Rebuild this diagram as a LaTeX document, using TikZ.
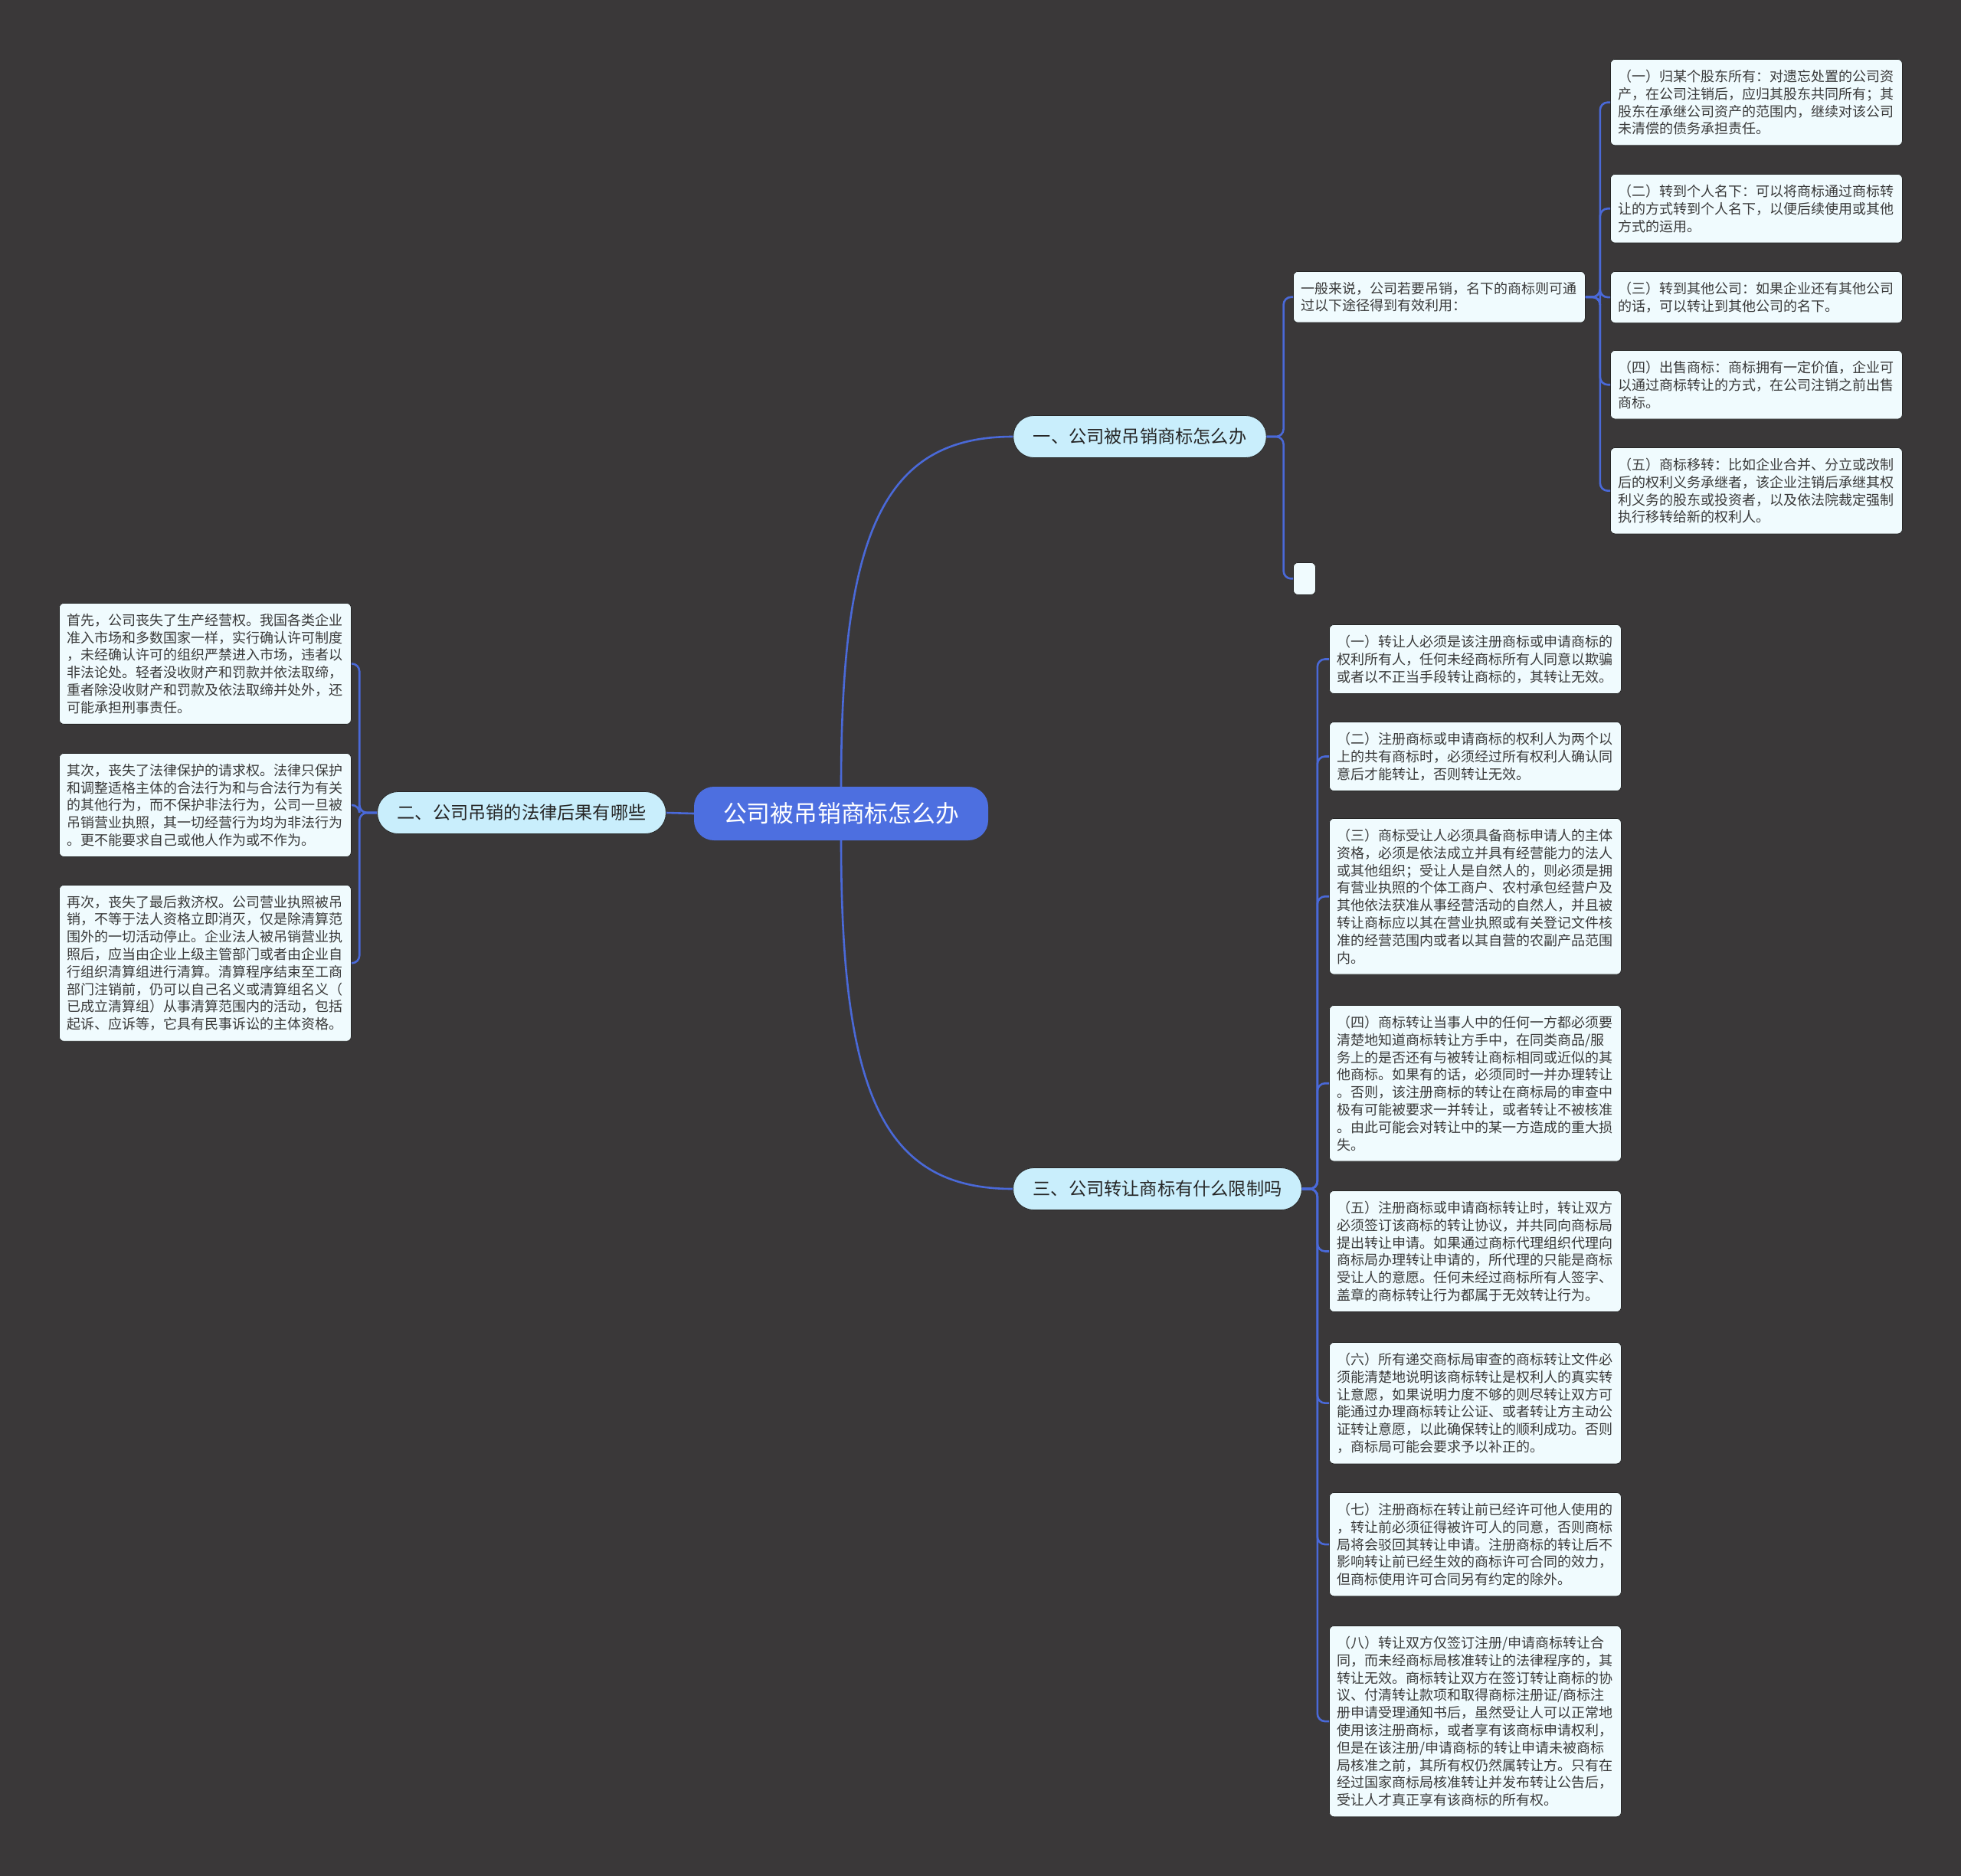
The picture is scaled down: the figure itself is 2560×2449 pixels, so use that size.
\documentclass[tikz,border=0pt]{standalone}
\usepackage{fontspec}
\setmainfont{Noto Sans CJK SC}
\definecolor{bgc}{HTML}{3A3839}
\definecolor{linkblue}{HTML}{4A69D8}
\definecolor{rootblue}{HTML}{4D6FE0}
\definecolor{branchcyan}{HTML}{C9EEFC}
\definecolor{leaffill}{HTML}{F0FBFE}
\definecolor{leaftext}{HTML}{3A3A3A}
\definecolor{branchtext}{HTML}{262626}

\begin{document}
\begin{tikzpicture}[x=1pt, y=-1pt,
    root/.style={fill=rootblue, text=white, rounded corners=26pt, minimum height=70pt, inner xsep=38pt, font=\fontsize{30.8}{36}\selectfont},
    branch/.style={fill=branchcyan, text=branchtext, draw=black!85, line width=0.8pt, rounded corners=27pt, minimum height=55pt, inner xsep=26pt, font=\fontsize{23.2}{28}\selectfont},
    leaf/.style={fill=leaffill, text=leaftext, draw=black!85, line width=0.8pt, rounded corners=6pt, anchor=north west, text width=361pt, inner xsep=10pt, inner ysep=13.6pt, align=left, font=\fontsize{18}{22.8}\selectfont},
    stub/.style={fill=leaffill, draw=black!85, line width=0.8pt, rounded corners=6pt, anchor=north west, minimum width=29pt, minimum height=42pt, inner sep=0pt},
    link/.style={draw=linkblue, line width=2.6pt, rounded corners=10pt}
]
\fill[bgc] (0,0) rectangle (2560,2449);
\useasboundingbox (0,0) rectangle (2560,2449);

\node[root] (root) at (1098,1062) {公司被吊销商标怎么办};
\node[branch] (b1) at (1488,570) {一、公司被吊销商标怎么办};
\node[branch] (b2) at (681,1061) {二、公司吊销的法律后果有哪些};
\node[branch] (b3) at (1511,1552) {三、公司转让商标有什么限制吗};

\node[leaf] (s1) at (1688,354) {一般来说，公司若要吊销，名下的商标则可通\\
过以下途径得到有效利用：};
\node[stub] (s2) at (1688,734) {};

\node[leaf] (a1) at (2102,77) {（一）归某个股东所有：对遗忘处置的公司资\\
产，在公司注销后，应归其股东共同所有；其\\
股东在承继公司资产的范围内，继续对该公司\\
未清偿的债务承担责任。};
\node[leaf] (a2) at (2102,227) {（二）转到个人名下：可以将商标通过商标转\\
让的方式转到个人名下，以便后续使用或其他\\
方式的运用。};
\node[leaf] (a3) at (2102,354) {（三）转到其他公司：如果企业还有其他公司\\
的话，可以转让到其他公司的名下。};
\node[leaf] (a4) at (2102,457) {（四）出售商标：商标拥有一定价值，企业可\\
以通过商标转让的方式，在公司注销之前出售\\
商标。};
\node[leaf] (a5) at (2102,584) {（五）商标移转：比如企业合并、分立或改制\\
后的权利义务承继者，该企业注销后承继其权\\
利义务的股东或投资者，以及依法院裁定强制\\
执行移转给新的权利人。};

\node[leaf] (l1) at (77,787) {首先，公司丧失了生产经营权。我国各类企业\\
准入市场和多数国家一样，实行确认许可制度\\
，未经确认许可的组织严禁进入市场，违者以\\
非法论处。轻者没收财产和罚款并依法取缔，\\
重者除没收财产和罚款及依法取缔并处外，还\\
可能承担刑事责任。};
\node[leaf] (l2) at (77,983) {其次，丧失了法律保护的请求权。法律只保护\\
和调整适格主体的合法行为和与合法行为有关\\
的其他行为，而不保护非法行为，公司一旦被\\
吊销营业执照，其一切经营行为均为非法行为\\
。更不能要求自己或他人作为或不作为。};
\node[leaf] (l3) at (77,1155) {再次，丧失了最后救济权。公司营业执照被吊\\
销，不等于法人资格立即消灭，仅是除清算范\\
围外的一切活动停止。企业法人被吊销营业执\\
照后，应当由企业上级主管部门或者由企业自\\
行组织清算组进行清算。清算程序结束至工商\\
部门注销前，仍可以自己名义或清算组名义（\\
已成立清算组）从事清算范围内的活动，包括\\
起诉、应诉等，它具有民事诉讼的主体资格。};

\node[leaf] (c1) at (1735,815) {（一）转让人必须是该注册商标或申请商标的\\
权利所有人，任何未经商标所有人同意以欺骗\\
或者以不正当手段转让商标的，其转让无效。};
\node[leaf] (c2) at (1735,942) {（二）注册商标或申请商标的权利人为两个以\\
上的共有商标时，必须经过所有权利人确认同\\
意后才能转让，否则转让无效。};
\node[leaf] (c3) at (1735,1068) {（三）商标受让人必须具备商标申请人的主体\\
资格，必须是依法成立并具有经营能力的法人\\
或其他组织；受让人是自然人的，则必须是拥\\
有营业执照的个体工商户、农村承包经营户及\\
其他依法获准从事经营活动的自然人，并且被\\
转让商标应以其在营业执照或有关登记文件核\\
准的经营范围内或者以其自营的农副产品范围\\
内。};
\node[leaf] (c4) at (1735,1312) {（四）商标转让当事人中的任何一方都必须要\\
清楚地知道商标转让方手中，在同类商品/服\\
务上的是否还有与被转让商标相同或近似的其\\
他商标。如果有的话，必须同时一并办理转让\\
。否则，该注册商标的转让在商标局的审查中\\
极有可能被要求一并转让，或者转让不被核准\\
。由此可能会对转让中的某一方造成的重大损\\
失。};
\node[leaf] (c5) at (1735,1554) {（五）注册商标或申请商标转让时，转让双方\\
必须签订该商标的转让协议，并共同向商标局\\
提出转让申请。如果通过商标代理组织代理向\\
商标局办理转让申请的，所代理的只能是商标\\
受让人的意愿。任何未经过商标所有人签字、\\
盖章的商标转让行为都属于无效转让行为。};
\node[leaf] (c6) at (1735,1752) {（六）所有递交商标局审查的商标转让文件必\\
须能清楚地说明该商标转让是权利人的真实转\\
让意愿，如果说明力度不够的则尽转让双方可\\
能通过办理商标转让公证、或者转让方主动公\\
证转让意愿，以此确保转让的顺利成功。否则\\
，商标局可能会要求予以补正的。};
\node[leaf] (c7) at (1735,1948) {（七）注册商标在转让前已经许可他人使用的\\
，转让前必须征得被许可人的同意，否则商标\\
局将会驳回其转让申请。注册商标的转让后不\\
影响转让前已经生效的商标许可合同的效力，\\
但商标使用许可合同另有约定的除外。};
\node[leaf] (c8) at (1735,2122) {（八）转让双方仅签订注册/申请商标转让合\\
同，而未经商标局核准转让的法律程序的，其\\
转让无效。商标转让双方在签订转让商标的协\\
议、付清转让款项和取得商标注册证/商标注\\
册申请受理通知书后，虽然受让人可以正常地\\
使用该注册商标，或者享有该商标申请权利，\\
但是在该注册/申请商标的转让申请未被商标\\
局核准之前，其所有权仍然属转让方。只有在\\
经过国家商标局核准转让并发布转让公告后，\\
受让人才真正享有该商标的所有权。};

\draw[link] (root.north) .. controls +(0,-330) and +(-170,0) .. (b1.west);
\draw[link] (root.south) .. controls +(0,330) and +(-170,0) .. (b3.west);
\draw[link] (root.west) -- (b2.east);

\draw[link] (b1.east) -- ++(22,0) |- (s1.west);
\draw[link] (b1.east) -- ++(22,0) |- (s2.west);

\draw[link] (s1.east) -- ++(19,0) |- (a1.west);
\draw[link] (s1.east) -- ++(19,0) |- (a2.west);
\draw[link] (s1.east) -- ++(19,0) |- (a3.west);
\draw[link] (s1.east) -- ++(19,0) |- (a4.west);
\draw[link] (s1.east) -- ++(19,0) |- (a5.west);

\draw[link] (b2.west) -- ++(-23,0) |- (l1.east);
\draw[link] (b2.west) -- ++(-23,0) |- (l2.east);
\draw[link] (b2.west) -- ++(-23,0) |- (l3.east);

\draw[link] (b3.east) -- ++(20,0) |- (c1.west);
\draw[link] (b3.east) -- ++(20,0) |- (c2.west);
\draw[link] (b3.east) -- ++(20,0) |- (c3.west);
\draw[link] (b3.east) -- ++(20,0) |- (c4.west);
\draw[link] (b3.east) -- ++(20,0) |- (c5.west);
\draw[link] (b3.east) -- ++(20,0) |- (c6.west);
\draw[link] (b3.east) -- ++(20,0) |- (c7.west);
\draw[link] (b3.east) -- ++(20,0) |- (c8.west);
\end{tikzpicture}
\end{document}
